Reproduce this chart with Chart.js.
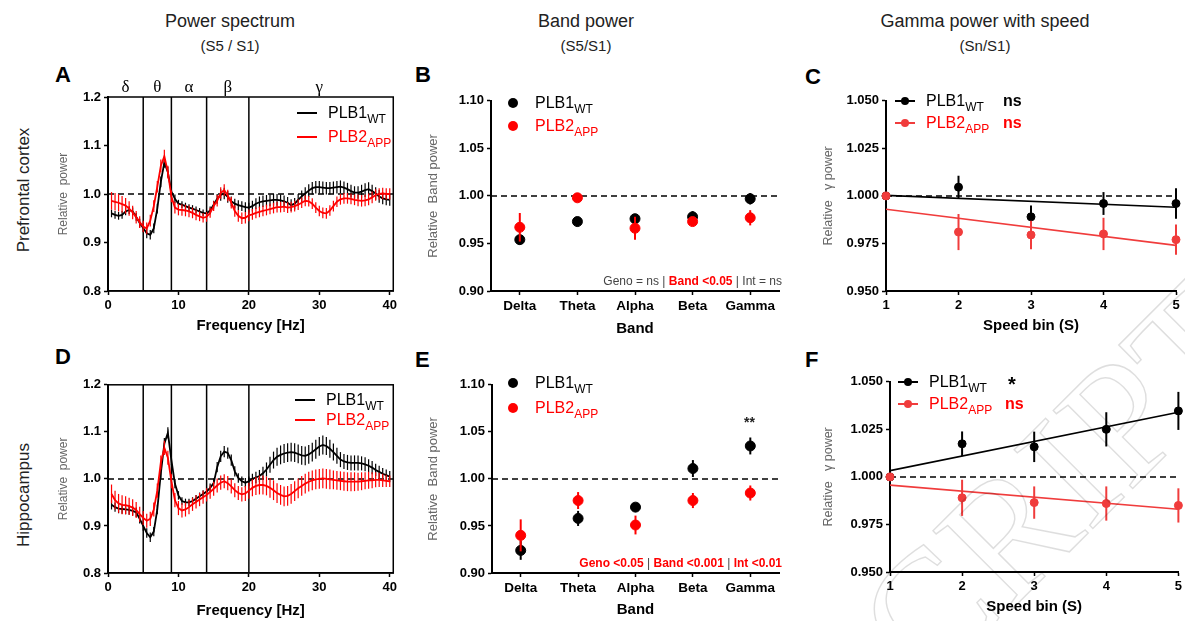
<!DOCTYPE html>
<html>
<head>
<meta charset="utf-8">
<script src="https://cdn.jsdelivr.net/npm/chart.js@4.4.1/dist/chart.umd.min.js"></script>
<style>
  body { margin: 0; width: 1185px; height: 621px; overflow: hidden; background: #fff; position: relative;
         font-family: "Liberation Sans", Arial, sans-serif; color: #000; }
  .panel { position: absolute; }
  .txt { position: absolute; white-space: nowrap; }
  .ctr { transform: translateX(-50%); }
  .head { font-size: 18px; color: #222; }
  .subhead { font-size: 15px; color: #222; }
  .letter { font-size: 22px; font-weight: bold; }
  .row { font-size: 17px; color: #222; transform: translate(-50%, -50%) rotate(-90deg); }
  .leg { position: absolute; display: flex; align-items: center; height: 20px; font-size: 16px; white-space: nowrap; }
  .leg .ln { display: inline-block; width: 20px; height: 2px; margin-right: 11px; position: relative; }
  .leg .ln.dotted::after { content: ""; position: absolute; left: 6px; top: -3px; width: 8px; height: 8px; border-radius: 50%; background: inherit; }
  .leg .dot { display: inline-block; width: 10px; height: 10px; border-radius: 50%; margin-right: 17px; }
  .sub { font-size: 12px; position: relative; top: 5px; }
  .red { color: #ff0000; }
  .stat { font-size: 12px; color: #444; }
  .wm { position: absolute; left: 955px; top: 530px; font: 170px "Liberation Serif", serif; line-height: 190px; color: transparent;
        -webkit-text-stroke: 1.5px rgba(0,0,0,0.13); transform: rotate(-45deg); transform-origin: 0 100%;
        pointer-events: none; }
</style>
</head>
<body>

<div class="txt ctr head" style="left:230px;top:11px">Power spectrum</div>
<div class="txt ctr subhead" style="left:230px;top:37px">(S5 / S1)</div>
<div class="txt ctr head" style="left:586px;top:11px">Band power</div>
<div class="txt ctr subhead" style="left:586px;top:37px">(S5/S1)</div>
<div class="txt ctr head" style="left:985px;top:11px">Gamma power with speed</div>
<div class="txt ctr subhead" style="left:985px;top:37px">(Sn/S1)</div>

<div class="txt row" style="left:24px;top:190px">Prefrontal cortex</div>
<div class="txt row" style="left:24px;top:495px">Hippocampus</div>

<div class="txt letter" style="left:55px;top:62px">A</div>
<div class="txt letter" style="left:415px;top:62px">B</div>
<div class="txt letter" style="left:805px;top:64px">C</div>
<div class="txt letter" style="left:55px;top:344px">D</div>
<div class="txt letter" style="left:415px;top:347px">E</div>
<div class="txt letter" style="left:805px;top:347px">F</div>

<div class="panel" style="left:56px;top:70px;width:344px;height:265px"><canvas id="chartA"></canvas></div>
<div class="panel" style="left:426px;top:90px;width:359px;height:248px"><canvas id="chartB"></canvas></div>
<div class="panel" style="left:821px;top:90px;width:364px;height:245px"><canvas id="chartC"></canvas></div>
<div class="panel" style="left:56px;top:374px;width:344px;height:246px"><canvas id="chartD"></canvas></div>
<div class="panel" style="left:426px;top:374px;width:359px;height:245px"><canvas id="chartE"></canvas></div>
<div class="panel" style="left:821px;top:371px;width:364px;height:245px"><canvas id="chartF"></canvas></div>

<!-- legends -->
<div class="leg" style="left:297px;top:103px"><span class="ln" style="background:#000"></span><span>PLB1<span class="sub">WT</span></span></div>
<div class="leg red" style="left:297px;top:127px"><span class="ln" style="background:#ff0000"></span><span>PLB2<span class="sub">APP</span></span></div>

<div class="leg" style="left:508px;top:93px"><span class="dot" style="background:#000"></span><span>PLB1<span class="sub">WT</span></span></div>
<div class="leg red" style="left:508px;top:116px"><span class="dot" style="background:#ff0000"></span><span>PLB2<span class="sub">APP</span></span></div>

<div class="leg" style="left:895px;top:91px"><span class="ln dotted" style="background:#000"></span><span>PLB1<span class="sub">WT</span></span></div>
<div class="leg" style="left:1003px;top:91px;font-weight:bold">ns</div>
<div class="leg red" style="left:895px;top:113px"><span class="ln dotted" style="background:#f03c3c"></span><span>PLB2<span class="sub">APP</span></span></div>
<div class="leg red" style="left:1003px;top:113px;font-weight:bold">ns</div>

<div class="leg" style="left:295px;top:390px"><span class="ln" style="background:#000"></span><span>PLB1<span class="sub">WT</span></span></div>
<div class="leg red" style="left:295px;top:410px"><span class="ln" style="background:#ff0000"></span><span>PLB2<span class="sub">APP</span></span></div>

<div class="leg" style="left:508px;top:373px"><span class="dot" style="background:#000"></span><span>PLB1<span class="sub">WT</span></span></div>
<div class="leg red" style="left:508px;top:398px"><span class="dot" style="background:#ff0000"></span><span>PLB2<span class="sub">APP</span></span></div>

<div class="leg" style="left:898px;top:372px"><span class="ln dotted" style="background:#000"></span><span>PLB1<span class="sub">WT</span></span></div>
<div class="leg" style="left:1008px;top:374px;font-weight:bold;font-size:20px">*</div>
<div class="leg red" style="left:898px;top:394px"><span class="ln dotted" style="background:#f03c3c"></span><span>PLB2<span class="sub">APP</span></span></div>
<div class="leg red" style="left:1005px;top:394px;font-weight:bold">ns</div>

<!-- stats -->
<div class="txt stat" style="right:403px;top:274px">Geno = ns | <b class="red">Band &lt;0.05</b> | Int = ns</div>
<div class="txt stat" style="right:403px;top:556px"><b class="red">Geno &lt;0.05</b> | <b class="red">Band &lt;0.001</b> | <b class="red">Int &lt;0.01</b></div>
<div class="txt" style="left:744px;top:414px;font-size:14px;font-weight:bold;color:#222">**</div>

<div class="wm">CRIPT</div>

<script>
// frequency axis of the spectra (Hz)
const freqHz = [0.5,1,1.5,2,2.5,3,3.5,4,4.5,5, 5.5,6,6.5,7,7.5,8,8.5,9,9.5,10,
  10.5,11,11.5,12,12.5,13,13.5,14,14.5,15, 15.5,16,16.5,17,17.5,18,18.5,19,19.5,20,
  20.5,21,21.5,22,22.5,23,23.5,24,24.5,25, 25.5,26,26.5,27,27.5,28,28.5,29,29.5,30,
  30.5,31,31.5,32,32.5,33,33.5,34,34.5,35, 35.5,36,36.5,37,37.5,38,38.5,39,39.5,40];

// A - prefrontal spectra
const pfcWT = [.960,.957,.955,.957,.964,.967,.964,.953,.940,.930,
  .919,.916,.929,.970,1.025,1.065,1.045,1.005,.990,.980,
  .978,.975,.972,.970,.967,.964,.961,.960,.966,.978,
  .990,.998,1.001,.994,.985,.980,.977,.975,.973,.972,
  .975,.980,.983,.985,.986,.987,.988,.988,.987,.985,
  .982,.977,.980,.988,.995,1.001,1.007,1.012,1.014,1.014,
  1.013,1.012,1.012,1.013,1.014,1.015,1.013,1.010,1.006,1.003,
  1.003,1.005,1.008,1.010,1.006,1.001,.995,.991,.989,.988];
const pfcWTsem = [.008,.008,.008,.008,.008,.008,.008,.008,.009,.009,
  .010,.010,.010,.010,.011,.011,.011,.010,.009,.008,
  .007,.007,.007,.007,.007,.007,.007,.007,.008,.008,
  .010,.012,.012,.012,.010,.010,.010,.010,.010,.010,
  .011,.011,.012,.012,.012,.012,.012,.012,.012,.012,
  .012,.012,.012,.012,.012,.013,.013,.013,.013,.013,
  .013,.013,.013,.013,.013,.013,.013,.013,.013,.013,
  .013,.014,.014,.014,.013,.013,.013,.012,.012,.012];
const pfcAPP = [.986,.984,.982,.979,.976,.970,.962,.952,.942,.933,
  .929,.945,.975,1.015,1.058,1.078,1.045,.995,.972,.968,
  .967,.966,.964,.961,.957,.954,.951,.953,.961,.975,
  .986,1.002,1.008,.997,.982,.965,.955,.950,.951,.956,
  .958,.961,.963,.965,.967,.969,.971,.973,.973,.974,
  .972,.973,.975,.978,.982,.986,.985,.980,.972,.965,
  .961,.960,.966,.975,.984,.989,.991,.991,.990,.988,
  .987,.986,.987,.989,.993,.998,1.000,1.001,1.000,1.000];
const pfcAPPsem = [.018,.018,.018,.017,.016,.015,.014,.013,.012,.012,
  .012,.012,.012,.012,.013,.013,.013,.012,.012,.012,
  .012,.012,.012,.011,.011,.010,.010,.010,.010,.010,
  .012,.012,.012,.012,.012,.012,.012,.012,.012,.012,
  .011,.011,.011,.011,.011,.011,.011,.011,.011,.011,
  .011,.011,.011,.011,.011,.011,.011,.011,.011,.011,
  .011,.011,.011,.011,.011,.011,.011,.011,.011,.011,
  .012,.012,.012,.012,.012,.012,.012,.012,.012,.012];

// D - hippocampal spectra
const hipWT = [.945,.940,.937,.936,.935,.934,.932,.929,.915,.900,
  .885,.876,.888,.935,1.012,1.075,1.098,1.040,.990,.965,
  .953,.950,.950,.953,.958,.963,.968,.973,.981,.991,
  1.025,1.048,1.058,1.055,1.040,1.016,1.002,.995,.992,.995,
  1.000,1.003,1.006,1.012,1.020,1.030,1.040,1.047,1.051,1.054,
  1.056,1.057,1.056,1.053,1.050,1.049,1.052,1.057,1.063,1.069,
  1.072,1.070,1.064,1.057,1.049,1.041,1.037,1.035,1.034,1.034,
  1.034,1.033,1.031,1.028,1.024,1.019,1.015,1.011,1.008,1.005];
const hipWTsem = [.010,.010,.010,.010,.010,.010,.010,.010,.010,.010,
  .010,.010,.010,.010,.011,.012,.012,.011,.010,.009,
  .008,.008,.008,.008,.008,.008,.008,.008,.009,.010,
  .011,.012,.012,.012,.012,.011,.010,.010,.010,.010,
  .011,.012,.013,.014,.015,.017,.018,.019,.020,.020,
  .020,.020,.020,.020,.020,.020,.020,.020,.020,.020,
  .020,.019,.019,.018,.017,.016,.016,.016,.016,.016,
  .016,.015,.015,.014,.014,.013,.013,.012,.012,.012];
const hipAPP = [.968,.955,.948,.945,.944,.942,.939,.934,.925,.917,
  .911,.915,.935,.975,1.035,1.066,1.045,.995,.955,.938,
  .933,.935,.940,.946,.951,.956,.961,.966,.972,.979,
  .986,.992,.995,.991,.984,.976,.970,.967,.969,.975,
  .981,.985,.987,.987,.985,.981,.976,.970,.966,.963,
  .964,.968,.974,.980,.985,.990,.994,.997,.999,1.000,
  1.001,1.000,.999,.998,.997,.996,.995,.994,.994,.994,
  .994,.995,.996,.997,.997,.998,.998,.997,.996,.995];
const hipAPPsem = [.020,.020,.020,.020,.019,.018,.018,.017,.016,.015,
  .015,.015,.015,.015,.015,.015,.015,.015,.015,.015,
  .015,.015,.015,.014,.014,.014,.014,.014,.014,.015,
  .015,.015,.015,.015,.015,.015,.015,.015,.016,.017,
  .018,.019,.020,.020,.020,.021,.021,.021,.021,.021,
  .021,.021,.021,.021,.021,.021,.021,.021,.021,.021,
  .021,.021,.021,.020,.020,.020,.020,.020,.020,.020,
  .019,.019,.018,.018,.017,.016,.015,.014,.013,.012];

// frequency bands
const bandEdges = [5, 9, 14, 20];
const bandCenters = [2.5, 7, 11.5, 17, 30];
const bandSymbols = ['δ', 'θ', 'α', 'β', 'γ'];
const bandNames = ['Delta', 'Theta', 'Alpha', 'Beta', 'Gamma'];

// B / E - band power
const pfcBandWT = [0.954, 0.973, 0.976, 0.978, 0.997];
const pfcBandWTsem = [0.005, 0.005, 0.004, 0.006, 0.006];
const pfcBandAPP = [0.967, 0.998, 0.966, 0.973, 0.977];
const pfcBandAPPsem = [0.015, 0.003, 0.012, 0.003, 0.008];
const hipBandWT = [0.924, 0.958, 0.970, 1.011, 1.035];
const hipBandWTsem = [0.010, 0.008, 0.003, 0.009, 0.009];
const hipBandAPP = [0.940, 0.977, 0.951, 0.977, 0.985];
const hipBandAPPsem = [0.017, 0.009, 0.010, 0.008, 0.008];

// C / F - gamma power by speed bin
const speedBins = [1, 2, 3, 4, 5];
const pfcGammaWT = [1.000, 1.0046, 0.989, 0.996, 0.996];
const pfcGammaWTsem = [0, 0.006, 0.006, 0.006, 0.008];
const pfcGammaAPP = [1.000, 0.981, 0.9795, 0.980, 0.977];
const pfcGammaAPPsem = [0, 0.0095, 0.0075, 0.0085, 0.008];
const hipGammaWT = [1.000, 1.0174, 1.0158, 1.025, 1.0347];
const hipGammaWTsem = [0, 0.0065, 0.008, 0.009, 0.010];
const hipGammaAPP = [1.000, 0.989, 0.9865, 0.986, 0.985];
const hipGammaAPPsem = [0, 0.0095, 0.0085, 0.009, 0.009];
// regression lines, value at first and last speed bin
const fitBins = [1, 5];
const pfcFitWT = [1.0003, 0.994];
const pfcFitAPP = [0.993, 0.974];
const hipFitWT = [1.0033, 1.034];
const hipFitAPP = [0.9957, 0.983];

Chart.defaults.font.family = '"Liberation Sans", Arial, sans-serif';
Chart.defaults.animation = false;

// vertical SEM bars, drawn just before their own dataset
const errorBars = {
  id: 'errorBars',
  beforeDatasetDraw(chart, args) {
    const ds = chart.data.datasets[args.index];
    if (!ds.errors) return;
    const yS = chart.scales[args.meta.yAxisID];
    const ctx = chart.ctx;
    ctx.save();
    ctx.strokeStyle = ds.borderColor;
    ctx.lineWidth = ds.errorWidth || 1.2;
    args.meta.data.forEach(function (pt, i) {
      const d = ds.data[i];
      const v = typeof d === 'object' ? d.y : d;
      const e = ds.errors[i];
      if (!e) return;
      ctx.beginPath();
      ctx.moveTo(pt.x, yS.getPixelForValue(v - e));
      ctx.lineTo(pt.x, yS.getPixelForValue(v + e));
      ctx.stroke();
    });
    ctx.restore();
  }
};

// dashed reference line at 1.0
const refLine = {
  id: 'refLine',
  beforeDatasetsDraw(chart, args, opts) {
    if (opts.value === undefined) return;
    const a = chart.chartArea;
    const y = chart.scales.y.getPixelForValue(opts.value);
    const ctx = chart.ctx;
    ctx.save();
    ctx.setLineDash([6, 4]);
    ctx.lineWidth = 1.5;
    ctx.strokeStyle = '#000';
    ctx.beginPath();
    ctx.moveTo(a.left, y);
    ctx.lineTo(a.right, y);
    ctx.stroke();
    ctx.restore();
  }
};

// full box around the plot plus the greek band names above it (spectra only)
const frame = {
  id: 'frame',
  afterDatasetsDraw(chart, args, opts) {
    if (!opts.show) return;
    const a = chart.chartArea;
    const ctx = chart.ctx;
    ctx.save();
    ctx.lineWidth = 1.5;
    ctx.strokeStyle = '#000';
    ctx.strokeRect(a.left, a.top, a.right - a.left, a.bottom - a.top);
    if (opts.greek) {
      ctx.fillStyle = '#000';
      ctx.font = '17px "Liberation Serif", "DejaVu Serif", serif';
      ctx.textAlign = 'center';
      ctx.textBaseline = 'alphabetic';
      bandCenters.forEach(function (c, i) {
        ctx.fillText(bandSymbols[i], chart.scales.x.getPixelForValue(c), a.top - 5);
      });
    }
    ctx.restore();
  }
};

Chart.register(errorBars, refLine, frame);

const tickFont = { size: 13, weight: 'bold' };
const axisGrid = { drawOnChartArea: false, tickLength: 4, tickColor: '#000', tickWidth: 1.5 };

function pts(xs, ys) {
  return xs.map(function (x, i) { return { x: x, y: ys[i] }; });
}

function yAxis(min, max, step, digits, title, width, size) {
  return {
    min: min, max: max,
    ticks: { stepSize: step, color: '#000', font: tickFont, callback: function (v) { return v.toFixed(digits); } },
    grid: axisGrid,
    border: { color: '#000', width: 2 },
    title: { display: true, text: title, color: '#666', font: { size: size }, padding: { top: 0, bottom: 0 } },
    afterFit: function (s) { s.width = width; }
  };
}

function xTitle(text) {
  return { display: true, text: text, color: '#000', font: { size: 15, weight: 'bold' }, padding: { top: 0, bottom: 0 } };
}

function baseOptions(padTop, padRight, scales, extra) {
  return {
    responsive: true,
    maintainAspectRatio: false,
    layout: { padding: { top: padTop, right: padRight, left: 0, bottom: 0 } },
    plugins: Object.assign({ legend: { display: false }, tooltip: { enabled: false }, refLine: { value: 1 } }, extra || {}),
    scales: scales
  };
}

function spectrum(id, wt, wtSem, app, appSem, xHeight, greek) {
  const datasets = [
    { data: pts(freqHz, app), errors: appSem, borderColor: '#ff0000', borderWidth: 1.8, pointRadius: 0, order: 0 },
    { data: pts(freqHz, wt), errors: wtSem, borderColor: '#000', borderWidth: 1.8, pointRadius: 0, order: 1 }
  ];
  bandEdges.forEach(function (e) {
    datasets.push({ data: [{ x: e, y: 0.8 }, { x: e, y: 1.2 }], borderColor: '#000', borderWidth: 1.5, pointRadius: 0, order: 2 });
  });
  const scales = {
    x: {
      type: 'linear', min: 0, max: 40.5,
      ticks: { stepSize: 10, includeBounds: false, color: '#000', font: tickFont, maxRotation: 0 },
      grid: axisGrid,
      border: { color: '#000', width: 1.5 },
      title: xTitle('Frequency [Hz]'),
      afterFit: function (s) { s.height = xHeight; }
    },
    y: yAxis(0.8, 1.2, 0.1, 1, 'Relative  power', 52, 12)
  };
  new Chart(document.getElementById(id), {
    type: 'line',
    data: { datasets: datasets },
    options: baseOptions(greek ? 27 : 7, 2, scales, { frame: { show: true, greek: greek } })
  });
}

function bandChart(id, wt, wtSem, app, appSem, yWidth, xHeight) {
  new Chart(document.getElementById(id), {
    type: 'line',
    data: {
      labels: bandNames,
      datasets: [
        { data: app, errors: appSem, errorWidth: 2, showLine: false, pointRadius: 5, borderColor: '#ff0000',
          pointBackgroundColor: '#ff0000', pointBorderColor: '#ff0000', order: 0, clip: false },
        { data: wt, errors: wtSem, errorWidth: 2, showLine: false, pointRadius: 5, borderColor: '#000',
          pointBackgroundColor: '#000', pointBorderColor: '#000', order: 1, clip: false }
      ]
    },
    options: baseOptions(7, 2, {
      x: {
        type: 'category', offset: true,
        ticks: { color: '#000', font: { size: 13.5, weight: 'bold' }, maxRotation: 0, autoSkip: false },
        grid: axisGrid,
        border: { color: '#000', width: 2 },
        title: xTitle('Band'),
        afterFit: function (s) { s.height = xHeight; }
      },
      y: yAxis(0.9, 1.1, 0.05, 2, 'Relative  Band power', yWidth, 13)
    })
  });
}

function speedChart(id, wt, wtSem, app, appSem, fitWT, fitAPP, yWidth, padRight, xHeight) {
  new Chart(document.getElementById(id), {
    type: 'line',
    data: {
      datasets: [
        { data: pts(speedBins, app), errors: appSem, errorWidth: 2, showLine: false, pointRadius: 4, borderColor: '#f03c3c',
          pointBackgroundColor: '#f03c3c', pointBorderColor: '#f03c3c', order: 0, clip: false },
        { data: pts(speedBins, wt), errors: wtSem, errorWidth: 2, showLine: false, pointRadius: 4, borderColor: '#000',
          pointBackgroundColor: '#000', pointBorderColor: '#000', order: 1, clip: false },
        { data: pts(fitBins, fitAPP), borderColor: '#f03c3c', borderWidth: 1.6, pointRadius: 0, order: 2 },
        { data: pts(fitBins, fitWT), borderColor: '#000', borderWidth: 1.6, pointRadius: 0, order: 3 }
      ]
    },
    options: baseOptions(7, padRight, {
      x: {
        type: 'linear', min: 1, max: 5,
        ticks: { stepSize: 1, color: '#000', font: tickFont, maxRotation: 0 },
        grid: axisGrid,
        border: { color: '#000', width: 2 },
        title: xTitle('Speed bin (S)'),
        afterFit: function (s) { s.height = xHeight; }
      },
      y: yAxis(0.95, 1.05, 0.025, 3, 'Relative   γ power', yWidth, 12.5)
    })
  });
}

spectrum('chartA', pfcWT, pfcWTsem, pfcAPP, pfcAPPsem, 44, true);
spectrum('chartD', hipWT, hipWTsem, hipAPP, hipAPPsem, 47, false);
bandChart('chartB', pfcBandWT, pfcBandWTsem, pfcBandAPP, pfcBandAPPsem, 65, 47);
bandChart('chartE', hipBandWT, hipBandWTsem, hipBandAPP, hipBandAPPsem, 66, 46);
speedChart('chartC', pfcGammaWT, pfcGammaWTsem, pfcGammaAPP, pfcGammaAPPsem, pfcFitWT, pfcFitAPP, 65, 9, 44);
speedChart('chartF', hipGammaWT, hipGammaWTsem, hipGammaAPP, hipGammaAPPsem, hipFitWT, hipFitAPP, 69, 4, 44);
</script>
</body>
</html>
